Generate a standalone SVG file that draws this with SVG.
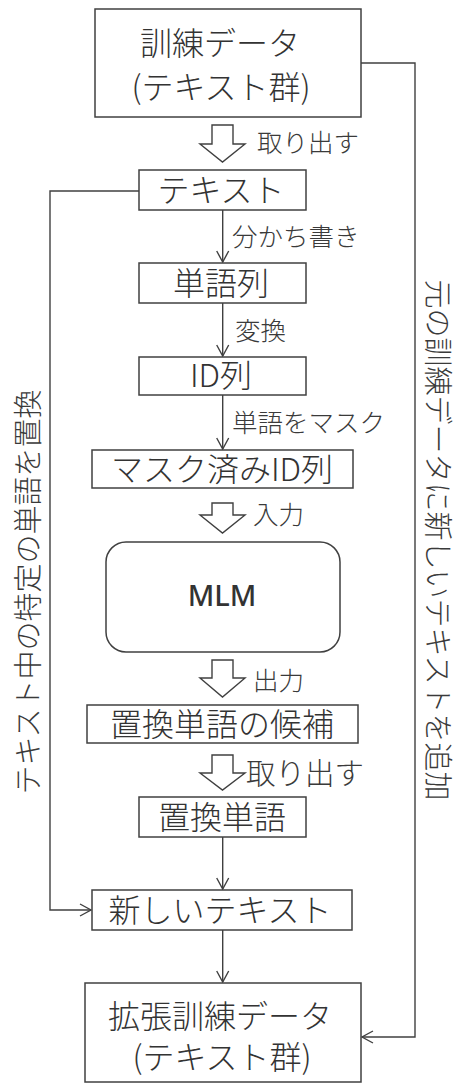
<svg xmlns="http://www.w3.org/2000/svg" width="454" height="1087" viewBox="0 0 454 1087">
<defs>
<style>
.box{fill:#fff;stroke:#404040;stroke-width:1.5}
.t{font-family:"Noto Sans CJK JP","Noto Sans",sans-serif;fill:#333;text-anchor:middle;font-size:32px;font-weight:300}
.l{font-family:"Noto Sans CJK JP","Noto Sans",sans-serif;fill:#3a3a3a;font-size:25.5px;font-weight:300}
.v{font-family:"Noto Sans CJK JP","Noto Sans",sans-serif;fill:#3a3a3a;font-size:29px;text-anchor:middle;font-weight:300}
.c{fill:none;stroke:#404040;stroke-width:1.4}
.h{fill:#fff;stroke:#404040;stroke-width:1.4;stroke-linejoin:miter}
</style>
<marker id="a" markerUnits="userSpaceOnUse" markerWidth="16" markerHeight="16" viewBox="-14 -8 16 16" refX="0" refY="0" orient="auto">
<path d="M-11,-6 L0,0 L-11,6" fill="none" stroke="#404040" stroke-width="1.4"/>
</marker>
</defs>
<rect width="454" height="1087" fill="#fff"/>

<g id="connectors">
<path class="c" d="M222.7,210 V262" marker-end="url(#a)"/>
<path class="c" d="M222.7,303 V356" marker-end="url(#a)"/>
<path class="c" d="M222.7,395 V449" marker-end="url(#a)"/>
<path class="c" d="M222.7,837 V889" marker-end="url(#a)"/>
<path class="c" d="M222.7,930 V982" marker-end="url(#a)"/>
<path class="c" d="M139,191 H50 V910 H91" marker-end="url(#a)"/>
<path class="c" d="M361,63 H415 V1037 H362" marker-end="url(#a)"/>
<path class="h" d="M212,125 H233 V144 H245 L222.5,162 L200,144 H212 Z"/>
<path class="h" d="M212,503 H233 V515 H245 L222.5,533 L200,515 H212 Z"/>
<path class="h" d="M212,660 H233 V678 H245 L222.5,697 L200,678 H212 Z"/>
<path class="h" d="M212,755 H233 V773 H245 L222.5,790 L200,773 H212 Z"/>
<text class="l" x="257" y="152">取り出す</text>
<text class="l" x="232" y="246">分かち書き</text>
<text class="l" x="235" y="340">変換</text>
<text class="l" x="232" y="432">単語をマスク</text>
<text class="l" x="253" y="524">入力</text>
<text class="l" x="253" y="690">出力</text>
<text class="l" x="246" y="784" style="font-size:29.5px">取り出す</text>
<text class="v" transform="translate(38.5,592) rotate(-90)">テキスト中の特定の単語を置換</text>
<text class="v" transform="translate(427,540) rotate(90)">元の訓練データに新しいテキストを追加</text>
</g>

<g id="n-train">
<rect class="box" x="95" y="9" width="266" height="108"/>
<text class="t" x="220" y="55">訓練データ</text>
<text class="t" x="221" y="99">(テキスト群)</text>
</g>
<g id="n-text">
<rect class="box" x="139" y="170" width="167" height="40"/>
<text class="t" x="221" y="202">テキスト</text>
</g>
<g id="n-words">
<rect class="box" x="139" y="263" width="167" height="40"/>
<text class="t" x="221" y="295">単語列</text>
</g>
<g id="n-ids">
<rect class="box" x="139" y="357" width="167" height="38"/>
<text class="t" x="221" y="387">ID列</text>
</g>
<g id="n-masked">
<rect class="box" x="92" y="450" width="261" height="38"/>
<text class="t" x="222" y="481">マスク済みID列</text>
</g>
<g id="n-mlm">
<rect class="box" x="106" y="542" width="234" height="110" rx="20" ry="20"/>
<text class="t" x="222" y="606" style="font-family:'Noto Sans',sans-serif;font-size:29px;font-weight:500">MLM</text>
</g>
<g id="n-cands">
<rect class="box" x="87" y="705" width="271" height="38"/>
<text class="t" x="222" y="736">置換単語の候補</text>
</g>
<g id="n-repl">
<rect class="box" x="139" y="797" width="167" height="40"/>
<text class="t" x="222" y="829">置換単語</text>
</g>
<g id="n-new">
<rect class="box" x="92" y="890" width="260" height="40"/>
<text class="t" x="220" y="922">新しいテキスト</text>
</g>
<g id="n-aug">
<rect class="box" x="85" y="983" width="276" height="99"/>
<text class="t" x="220" y="1028">拡張訓練データ</text>
<text class="t" x="222" y="1069">(テキスト群)</text>
</g>
</svg>
